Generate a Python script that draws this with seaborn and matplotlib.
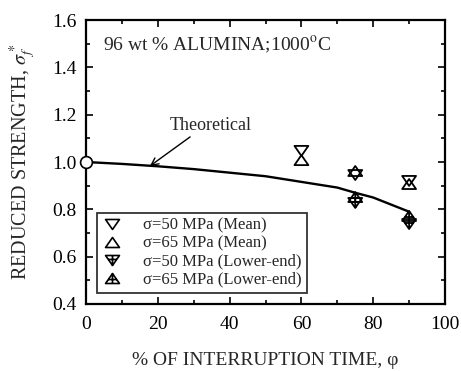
import numpy as np
import pandas as pd
import seaborn as sns
import matplotlib
matplotlib.use("Agg")
import matplotlib.pyplot as plt
from matplotlib.path import Path
from matplotlib.lines import Line2D
from matplotlib.ticker import MultipleLocator

# Theoretical reduced strength curve
theory_phi = [0, 10, 20, 30, 40, 50, 60, 70, 75, 80, 90]
theory_strength = [1.0, 0.992, 0.982, 0.970, 0.955, 0.940, 0.916, 0.892, 0.870, 0.850, 0.790]

# Measured reduced strengths
phi_points = [60, 75, 90]
s50_mean = [1.047, 0.945, 0.920]
s65_mean = [1.008, 0.962, 0.907]
s50_low = [None, 0.827, 0.738]
s65_low = [None, 0.852, 0.772]

labels = ["σ=50 MPa (Mean)", "σ=65 MPa (Mean)",
          "σ=50 MPa (Lower-end)", "σ=65 MPa (Lower-end)"]

sns.set_theme(style="ticks")
plt.rcParams["font.family"] = ["Liberation Serif", "DejaVu Serif"]
plt.rcParams["mathtext.fontset"] = "stix"

# Marker shapes: open triangles, and triangles with an inner cross
H = 0.72
tri_down = Path([(-1, H), (1, H), (0, -H), (-1, H)],
                [Path.MOVETO, Path.LINETO, Path.LINETO, Path.CLOSEPOLY])
tri_up = Path([(-1, -H), (1, -H), (0, H), (-1, -H)],
              [Path.MOVETO, Path.LINETO, Path.LINETO, Path.CLOSEPOLY])
tri_down_x = Path([(-1, H), (1, H), (0, -H), (-1, H),
                   (0, H), (0, -H), (-0.6, 0.15), (0.6, 0.15)],
                  [Path.MOVETO, Path.LINETO, Path.LINETO, Path.CLOSEPOLY,
                   Path.MOVETO, Path.LINETO, Path.MOVETO, Path.LINETO])
tri_up_x = Path([(-1, -H), (1, -H), (0, H), (-1, -H),
                 (0, H), (0, -H), (-0.6, -0.15), (0.6, -0.15)],
                [Path.MOVETO, Path.LINETO, Path.LINETO, Path.CLOSEPOLY,
                 Path.MOVETO, Path.LINETO, Path.MOVETO, Path.LINETO])

fig = plt.figure(figsize=(4.61, 3.71), dpi=100)
ax = fig.add_axes([0.1866, 0.1806, 0.7787, 0.7654])

theory = pd.DataFrame({"phi": theory_phi, "strength": theory_strength})
sns.lineplot(data=theory, x="phi", y="strength", ax=ax, color="black",
             linewidth=1.7, estimator=None, sort=False)

ax.plot([0], [1.0], marker="o", markersize=8.5, markerfacecolor="white",
        markeredgecolor="black", markeredgewidth=1.2, clip_on=False, zorder=5)

series = [s50_mean, s65_mean, s50_low, s65_low]
markers = [tri_down, tri_up, tri_down_x, tri_up_x]
for vals, mk in zip(series, markers):
    df = pd.DataFrame({"phi": phi_points, "val": vals}).dropna()
    sns.scatterplot(data=df, x="phi", y="val", ax=ax, marker=mk, s=100,
                    facecolor="none", edgecolor="black", linewidth=1.3,
                    zorder=4)

handles = [Line2D([], [], linestyle="none", marker=mk, markersize=10,
                  markerfacecolor="none", markeredgecolor="black",
                  markeredgewidth=1.2) for mk in markers]
leg = ax.legend(handles, labels, loc="lower left", bbox_to_anchor=(0.03, 0.04),
                frameon=True, fancybox=False, edgecolor="black",
                fontsize=12, handlelength=1.2, handletextpad=1.3,
                labelspacing=0.12, borderpad=0.3, borderaxespad=0)
leg.get_frame().set_linewidth(1.3)

ax.annotate("Theoretical", xy=(17.8, 0.983), xytext=(23.4, 1.12),
            fontsize=13, ha="left", va="bottom",
            arrowprops=dict(arrowstyle="->", color="black", lw=1.0,
                            shrinkA=0, shrinkB=0,
                            relpos=(0.3, 0.0)),
            )

ax.text(4.7, 1.494, "96 wt % ALUMINA;1000$^{\\mathrm{o}}$C", fontsize=14,
        ha="left", va="center")

ax.set_xlim(0, 100)
ax.set_ylim(0.4, 1.6)
ax.xaxis.set_major_locator(MultipleLocator(20))
ax.xaxis.set_minor_locator(MultipleLocator(10))
ax.yaxis.set_major_locator(MultipleLocator(0.2))
ax.yaxis.set_minor_locator(MultipleLocator(0.1))
ax.set_xticklabels([f"{int(v)}" for v in ax.get_xticks()])
ax.set_yticklabels([f"{v:.1f}" for v in ax.get_yticks()])
ax.tick_params(which="both", direction="in", top=True, right=True,
               labelsize=14, width=1.2, colors="black")
ax.tick_params(which="major", length=5, pad=7)
ax.tick_params(axis="x", which="major", pad=9)
ax.tick_params(which="minor", length=3)
for sp in ax.spines.values():
    sp.set_linewidth(1.6)
    sp.set_color("black")

ax.set_xlabel("% OF INTERRUPTION TIME, φ", fontsize=14, labelpad=13)
ax.set_ylabel("REDUCED STRENGTH, $\\sigma_f^*$", fontsize=14.5, labelpad=10)

fig.savefig("out.png", dpi=100, facecolor="white")
